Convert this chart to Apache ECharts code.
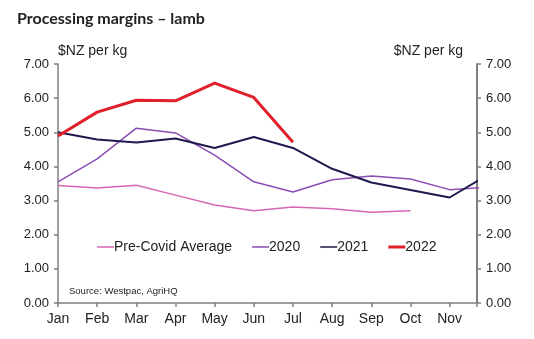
<!DOCTYPE html>
<html><head><meta charset="utf-8">
<script src="https://cdn.jsdelivr.net/npm/echarts@6/dist/echarts.min.js"></script>
<style>html,body{margin:0;padding:0;background:#fff}#c{width:534px;height:339px}</style>
</head><body><div id="c"></div>
<script>
const months = ['Jan','Feb','Mar','Apr','May','Jun','Jul','Aug','Sep','Oct','Nov','Dec'];
const preCovid = [3.44, 3.37, 3.45, 3.16, 2.87, 2.70, 2.81, 2.76, 2.66, 2.70];
const y2020 = [3.55, 4.22, 5.12, 4.98, 4.33, 3.55, 3.25, 3.61, 3.72, 3.63, 3.32, 3.39];
const y2021 = [5.00, 4.79, 4.70, 4.82, 4.54, 4.86, 4.54, 3.93, 3.53, 3.31, 3.09, 3.77];
const y2022 = [4.89, 5.59, 5.94, 5.92, 6.44, 6.02, 4.71];

const pts = a => a.map((v,i)=>[i,v]);
const chart = echarts.init(document.getElementById('c'));
const tickFont = {fontFamily:'Liberation Sans, Arial', fontSize:13, color:'#222'};
const axisLine = {show:true, lineStyle:{color:'#7f7f7f', width:1.5}};
const thin = 'path://M0,0h0.01v10h-0.01zM0,4.2h17v1.6h-17z';
const thick = 'path://M0,0h0.01v10h-0.01zM0,3.5h17v3h-17z';
const yBase = {
  type:'value', min:0, max:7, interval:1,
  axisLine: axisLine,
  axisTick:{show:true, inside:false, length:4, lineStyle:{color:'#7f7f7f', width:1.5}},
  splitLine:{show:false},
  axisLabel:Object.assign({margin:9, formatter:v=>v.toFixed(2)}, tickFont),
  name:'$NZ per kg', nameLocation:'end', nameGap:6
};
chart.setOption({
  animation:false,
  title:{text:'Processing margins – lamb', left:12, top:6,
    textStyle:{fontFamily:'Lato', fontWeight:'bold', fontSize:16, color:'#222'}},
  grid:{left:58, right:57, top:64, bottom:36},
  legend:{left:97, top:240, padding:0, itemWidth:17, itemHeight:10, itemGap:20,
    textStyle:{fontFamily:'Liberation Sans, Arial', fontSize:14, color:'#222', padding:[0,0,0,-5]},
    data:[{name:'Pre-Covid Average', icon:thin},{name:'2020', icon:thin},{name:'2021', icon:thin},{name:'2022', icon:thick}]},
  graphic:[{type:'text', left:69, top:286,
    style:{text:'Source: Westpac, AgriHQ', font:'9.5px Liberation Sans, Arial', fill:'#222'}}],
  xAxis:{type:'value', min:0, max:10.7, interval:1,
    axisLine: axisLine,
    axisTick:{show:true, length:4, lineStyle:{color:'#7f7f7f', width:1.5}},
    splitLine:{show:false},
    axisLabel:Object.assign({margin:9, formatter:v=>Number.isInteger(v)&&months[v]?months[v]:''}, tickFont, {fontSize:14})},
  yAxis:[
    Object.assign({}, yBase, {position:'left',
      nameTextStyle:Object.assign({}, tickFont, {fontSize:14, align:'left', padding:[0,0,0,0]})}),
    Object.assign({}, yBase, {position:'right',
      axisLine:{show:true, lineStyle:{color:'#555', width:1.5}},
      nameTextStyle:Object.assign({}, tickFont, {fontSize:14, align:'right', padding:[0,14,0,0]})})
  ],
  series:[
    {name:'Pre-Covid Average', type:'line', data:pts(preCovid), showSymbol:false, symbol:'none',
      lineStyle:{color:'#d667b4', width:1.5}, itemStyle:{color:'#d667b4'}},
    {name:'2020', type:'line', data:pts(y2020), showSymbol:false, symbol:'none',
      lineStyle:{color:'#8b4cb3', width:1.5}, itemStyle:{color:'#8b4cb3'}},
    {name:'2021', type:'line', data:pts(y2021), showSymbol:false, symbol:'none',
      lineStyle:{color:'#1e1a4d', width:2}, itemStyle:{color:'#1e1a4d'}},
    {name:'2022', type:'line', data:pts(y2022), showSymbol:false, symbol:'none',
      lineStyle:{color:'#e0202a', width:3}, itemStyle:{color:'#e0202a'}}
  ]
});
</script></body></html>
